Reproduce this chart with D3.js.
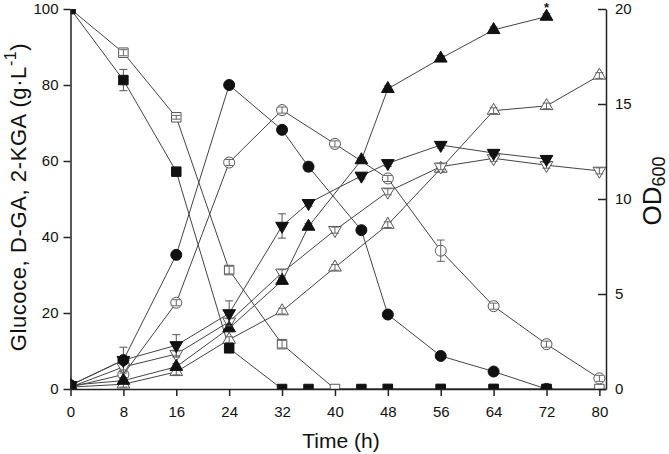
<!DOCTYPE html>
<html><head><meta charset="utf-8">
<script src="https://cdn.jsdelivr.net/npm/d3@7"></script>
<style>
body{margin:0;background:#fff}
svg{display:block}
text{font-family:"Liberation Sans",Arial,Helvetica,sans-serif;fill:#111}
</style>
</head><body>
<svg id="chart" width="669" height="454"></svg>
<script>
// ---- data ----
const timeTicks = [0, 8, 16, 24, 32, 40, 48, 56, 64, 72, 80];
const leftTicks = [0, 20, 40, 60, 80, 100];
const rightTicks = [0, 5, 10, 15, 20];

const time1 = [0, 8, 16, 24, 32, 36, 44, 48, 56, 64, 72];
const time2 = [0, 8, 16, 24, 32, 40, 48, 56, 64, 72, 80];

const glucose1 = [100, 81.3, 57.2, 10.7, 0, 0, 0, 0, 0, 0, 0];
const glucose1Err = [0, 2.8, 0.8, 0.8, 0, 0, 0, 0, 0, 0, 0];
const glucose2 = [100, 88.5, 71.5, 31.3, 11.8, 0, 0, 0, 0, 0, 0];
const glucose2Err = [0, 0.8, 0.5, 1.0, 1.0, 0, 0, 0, 0, 0, 0];

const dga1 = [1, 7.6, 35.3, 80, 68.2, 58.5, 41.8, 19.6, 8.7, 4.6, 0];
const dga1Err = [0, 0.8, 0.8, 0.5, 0.8, 1.2, 0.8, 1.0, 0.5, 0.5, 0];
const dga2 = [0.5, 3.8, 22.7, 59.6, 73.4, 64.5, 55.4, 36.4, 21.8, 11.8, 2.8];
const dga2Err = [0, 0.8, 0.8, 0.8, 0.8, 0.8, 0.8, 2.8, 0.8, 0.8, 0.8];

const kga1 = [1, 7.6, 11.5, 19.9, 42.9, 48.9, 56.1, 59.4, 64.2, 62.1, 60.5];
const kga1Err = [0, 3.4, 2.8, 3.3, 3.2, 0.8, 0.8, 0.8, 0.8, 0.8, 0.8];
const kga2 = [0.5, 5.8, 9.2, 17.7, 30.6, 41.8, 51.9, 58.5, 60.7, 58.9, 57.4];
const kga2Err = [0, 0.8, 0.8, 0.8, 0.8, 0.8, 0.8, 0.8, 0.8, 0.8, 0.8];

const od1 = [0.2, 0.44, 1.17, 3.2, 5.7, 8.55, 12.05, 15.8, 17.4, 18.9, 19.6];
const od1Err = [0, 0.15, 0.15, 0.15, 0.15, 0.15, 0.15, 0.15, 0.15, 0.15, 0.15];
const od2 = [0.1, 0.25, 0.9, 2.6, 4.1, 6.4, 8.65, 11.6, 14.65, 14.9, 16.5];
const od2Err = [0, 0.15, 0.15, 0.15, 0.15, 0.15, 0.15, 0.15, 0.15, 0.15, 0.15];

const series = [
  {t: time2, v: glucose2, e: glucose2Err, axis: "L", sym: "square", open: true},
  {t: time2, v: dga2, e: dga2Err, axis: "L", sym: "circle", open: true},
  {t: time2, v: od2, e: od2Err, axis: "R", sym: "up", open: true},
  {t: time2, v: kga2, e: kga2Err, axis: "L", sym: "down", open: true},
  {t: time1, v: od1, e: od1Err, axis: "R", sym: "up", open: false},
  {t: time1, v: kga1, e: kga1Err, axis: "L", sym: "down", open: false},
  {t: time1, v: glucose1, e: glucose1Err, axis: "L", sym: "square", open: false},
  {t: time1, v: dga1, e: dga1Err, axis: "L", sym: "circle", open: false}
];

// ---- layout ----
const svg = d3.select("#chart");
const X0 = 70.5, X1 = 606, Y0 = 389, Y1 = 9;
const x = d3.scaleLinear().domain([0, 81]).range([X0, X1]);
const yL = d3.scaleLinear().domain([0, 100]).range([Y0, Y1]);
const yR = d3.scaleLinear().domain([0, 20]).range([Y0, Y1]);

svg.append("defs").append("clipPath").attr("id", "plotclip")
  .append("rect").attr("x", X0).attr("y", Y1).attr("width", X1 - X0 + 8).attr("height", Y0 - Y1);

const plot = svg.append("g").attr("clip-path", "url(#plotclip)");

function symPath(s) {
  if (s === "square") return d3.symbol(d3.symbolSquare, 90)();
  if (s === "circle") return d3.symbol(d3.symbolCircle, 95)();
  return d3.symbol(d3.symbolTriangle, 70)();
}

// lines
series.forEach(s => {
  const y = s.axis === "L" ? yL : yR;
  const pts = s.t.map((t, i) => [x(t), y(s.v[i])]);
  plot.append("path").attr("d", d3.line()(pts))
    .attr("fill", "none").attr("stroke", "#444").attr("stroke-width", 1);
});

function errorBars(g, s, y, color) {
  s.t.forEach((t, i) => {
    if (!s.e[i]) return;
    const cx = x(t), top = y(s.v[i] + s.e[i]), bot = y(s.v[i] - s.e[i]);
    g.append("line").attr("x1", cx).attr("x2", cx).attr("y1", top).attr("y2", bot).attr("stroke", color);
    g.append("line").attr("x1", cx - 4).attr("x2", cx + 4).attr("y1", top).attr("y2", top).attr("stroke", color);
    g.append("line").attr("x1", cx - 4).attr("x2", cx + 4).attr("y1", bot).attr("y2", bot).attr("stroke", color);
  });
}

// markers + error bars
series.forEach(s => {
  const y = s.axis === "L" ? yL : yR;
  const g = plot.append("g");
  if (!s.open) errorBars(g, s, y, "#555");
  s.t.forEach((t, i) => {
    const cx = x(t), cy = y(s.v[i]);
    g.append("path").attr("d", symPath(s.sym))
      .attr("transform", `translate(${cx},${cy})` + (s.sym === "down" ? " rotate(180)" : ""))
      .attr("fill", s.open ? "#fff" : "#111")
      .attr("stroke", s.open ? "#555" : "#111").attr("stroke-width", 1);
  });
  if (s.open) errorBars(g, s, y, "#666");
});

// asterisk on last od1 point
svg.append("text").attr("x", x(time1[time1.length - 1])).attr("y", yR(od1[od1.length - 1]) - 4.4)
  .attr("text-anchor", "middle").attr("font-size", 13).attr("font-weight", "bold").text("*");

// axes
function styleAxis(g) {
  g.select(".domain").attr("stroke", "#222").attr("stroke-width", 1.5);
  g.selectAll(".tick line").attr("stroke", "#222").attr("stroke-width", 1.5);
  g.selectAll(".tick text").attr("font-size", 15).attr("fill", "#111");
}
svg.append("g").attr("transform", `translate(0,${Y0})`)
  .call(d3.axisBottom(x).tickValues(timeTicks).tickSize(7).tickSizeOuter(0).tickPadding(10))
  .call(styleAxis);
svg.append("g").attr("transform", `translate(${X0},0)`)
  .call(d3.axisLeft(yL).tickValues(leftTicks).tickSize(7).tickSizeOuter(0).tickPadding(5))
  .call(styleAxis);
svg.append("g").attr("transform", `translate(${X1},0)`)
  .call(d3.axisRight(yR).tickValues(rightTicks).tickSize(-8).tickSizeOuter(0).tickPadding(9))
  .call(styleAxis);

// titles
svg.append("text").attr("x", 341).attr("y", 448).attr("text-anchor", "middle")
  .attr("font-size", 21).text("Time (h)");

const lt = svg.append("text").attr("transform", "translate(26,197) rotate(-90)")
  .attr("text-anchor", "middle").attr("font-size", 22).attr("letter-spacing", 0.6);
lt.append("tspan").text("Glucoce, D-GA, 2-KGA (g·L");
lt.append("tspan").attr("font-size", 16).attr("dy", -10).text("-1");
lt.append("tspan").attr("dy", 10).text(")");

const rt = svg.append("text").attr("transform", "translate(661,191) rotate(-90)")
  .attr("text-anchor", "middle").attr("font-size", 26);
rt.append("tspan").text("OD");
rt.append("tspan").attr("font-size", 18).attr("dy", 4).text("600");
</script>
</body></html>
